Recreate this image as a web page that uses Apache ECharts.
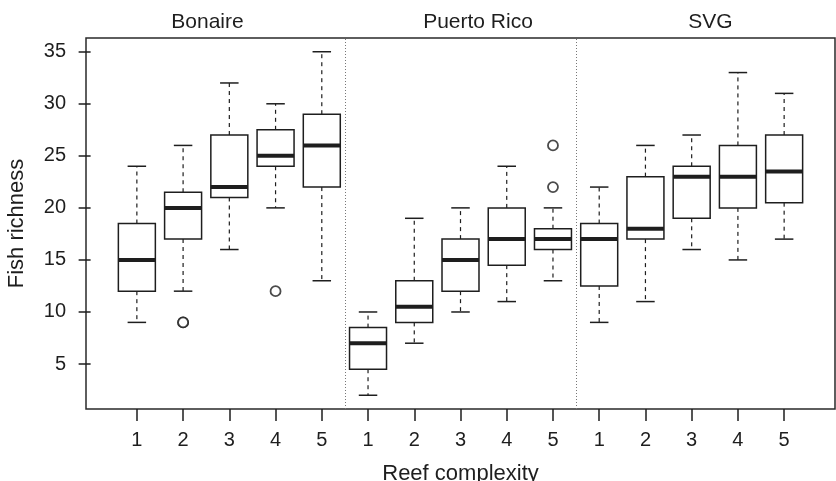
<!DOCTYPE html>
<html>
<head>
<meta charset="utf-8">
<script src="https://cdn.jsdelivr.net/npm/echarts@6/dist/echarts.min.js"></script>
<style>
  html, body { margin: 0; padding: 0; background: #fff; }
  #chart { width: 836px; height: 481px; }
</style>
</head>
<body>
<div id="chart"></div>
<script>
var regions = ['Bonaire', 'Puerto Rico', 'SVG'];
var complexity = ['1', '2', '3', '4', '5'];
// each box: [lower whisker, Q1, median, Q3, upper whisker]
var bonaire = [[9, 12, 15, 18.5, 24], [12, 17, 20, 21.5, 26], [16, 21, 22, 27, 32], [20, 24, 25, 27.5, 30], [13, 22, 26, 29, 35]];
var puertoRico = [[2, 4.5, 7, 8.5, 10], [7, 9, 10.5, 13, 19], [10, 12, 15, 17, 20], [11, 14.5, 17, 20, 24], [13, 16, 17, 18, 20]];
var svg = [[9, 12.5, 17, 18.5, 22], [11, 17, 18, 23, 26], [16, 19, 23, 24, 27], [15, 20, 23, 26, 33], [17, 20.5, 23.5, 27, 31]];
// outliers: [box position, value]
var outliers = [[2, 9], [2, 9], [4, 12], [10, 22], [10, 26]];
var yTicks = [5, 10, 15, 20, 25, 30, 35];

var font = "'Liberation Sans', Arial, sans-serif";
var ink = '#1e1e1e';

var boxes = [];
[bonaire, puertoRico, svg].forEach(function (grp) {
  grp.forEach(function (b) {
    boxes.push([boxes.length + 1].concat(b));
  });
});
var xTicks = boxes.map(function (b) { return b[0]; });
var separators = [];
for (var g = 1; g < regions.length; g++) {
  separators.push({ xAxis: g * complexity.length + 0.5 });
}

var myChart = echarts.init(document.getElementById('chart'));

function renderBox(params, api) {
  var x = api.value(0);
  var lo = api.coord([x, api.value(1)]);
  var q1 = api.coord([x, api.value(2)]);
  var md = api.coord([x, api.value(3)]);
  var q3 = api.coord([x, api.value(4)]);
  var hi = api.coord([x, api.value(5)]);
  var bw = api.size([0.8, 0])[0];
  var cw = api.size([0.4, 0])[0];
  var cx = lo[0];
  var solid = { stroke: ink, lineWidth: 1.5 };
  var dashed = { stroke: ink, lineWidth: 1.2, lineDash: [4, 4] };
  return {
    type: 'group',
    children: [
      { type: 'line', shape: { x1: cx, y1: q3[1], x2: cx, y2: hi[1] }, style: dashed },
      { type: 'line', shape: { x1: cx, y1: q1[1], x2: cx, y2: lo[1] }, style: dashed },
      { type: 'line', shape: { x1: cx - cw / 2, y1: hi[1], x2: cx + cw / 2, y2: hi[1] }, style: solid },
      { type: 'line', shape: { x1: cx - cw / 2, y1: lo[1], x2: cx + cw / 2, y2: lo[1] }, style: solid },
      { type: 'rect', shape: { x: cx - bw / 2, y: q3[1], width: bw, height: q1[1] - q3[1] },
        style: { stroke: ink, lineWidth: 1.5, fill: '#fff' } },
      { type: 'line', shape: { x1: cx - bw / 2, y1: md[1], x2: cx + bw / 2, y2: md[1] },
        style: { stroke: ink, lineWidth: 4 } }
    ]
  };
}

var titleX = [207.5, 478, 710.5];

var option = {
  animation: false,
  textStyle: { fontFamily: font },
  grid: {
    left: 86, right: 1, top: 38, bottom: 72,
    outerBoundsMode: 'none',
    containLabel: false,
    show: true, borderColor: '#2a2a2a', borderWidth: 1.5, backgroundColor: 'transparent'
  },
  graphic: regions.map(function (r, i) {
    return {
      type: 'text', x: titleX[i], y: 22,
      style: { text: r, fill: ink, font: '21px ' + font, textAlign: 'center', textVerticalAlign: 'middle' }
    };
  }),
  xAxis: {
    type: 'value',
    min: -0.1, max: 16.1,
    name: 'Reef complexity',
    nameLocation: 'middle',
    nameGap: 54,
    nameTextStyle: { fontSize: 22, color: ink, fontFamily: font },
    axisLine: { show: false },
    splitLine: { show: false },
    axisTick: { show: true, customValues: xTicks, length: 12, lineStyle: { color: ink, width: 1.5 } },
    axisLabel: {
      customValues: xTicks, margin: 21, fontSize: 20, color: ink, fontFamily: font,
      formatter: function (v) { return complexity[(Math.round(v) - 1) % complexity.length]; }
    }
  },
  yAxis: {
    type: 'value',
    min: 0.68, max: 36.32,
    name: 'Fish richness',
    nameLocation: 'middle',
    nameGap: 58,
    nameTextStyle: { fontSize: 22, color: ink, fontFamily: font },
    axisLine: { show: false },
    splitLine: { show: false },
    axisTick: { show: true, customValues: yTicks, length: 12, lineStyle: { color: ink, width: 1.5 } },
    axisLabel: { customValues: yTicks, margin: 20, fontSize: 20, color: ink, fontFamily: font }
  },
  series: [
    {
      type: 'custom',
      renderItem: renderBox,
      encode: { x: 0, y: [1, 2, 3, 4, 5] },
      data: boxes,
      markLine: {
        silent: true,
        symbol: ['none', 'none'],
        label: { show: false },
        lineStyle: { type: [1, 2], color: '#777', width: 1 },
        data: separators
      }
    },
    {
      type: 'scatter',
      symbol: 'circle',
      symbolSize: 10,
      itemStyle: { color: '#fff', borderColor: ink, borderWidth: 1.8 },
      data: outliers
    }
  ]
};

myChart.setOption(option);
window.onresize = function () {
  myChart.resize();
};
</script>
</body>
</html>
